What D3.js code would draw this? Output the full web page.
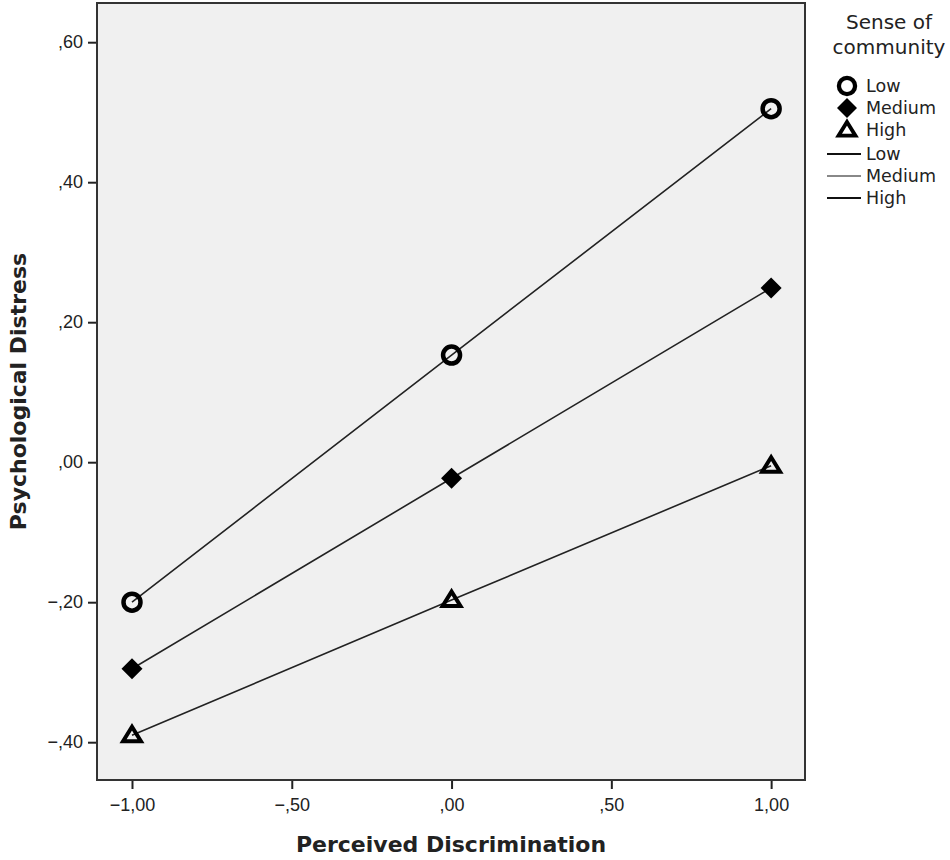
<!DOCTYPE html>
<html>
<head>
<meta charset="utf-8">
<script src="https://cdn.jsdelivr.net/npm/d3@7"></script>
<style>
  body { margin: 0; background: #fff; }
  svg { font-family: "DejaVu Sans", sans-serif; }
</style>
</head>
<body>
<svg></svg>
<script>
// chart data
let xValues = [-1, 0, 1];
let groups = ["Low", "Medium", "High"];
let lowValues = [-0.2, 0.153, 0.505];
let mediumValues = [-0.295, -0.023, 0.249];
let highValues = [-0.39, -0.197, -0.005];
let xTicks = [-1, -0.5, 0, 0.5, 1];
let yTicks = [-0.4, -0.2, 0, 0.2, 0.4, 0.6];

let width = 950;
let height = 860;
let plot = { left: 97, top: 3, right: 805, bottom: 780 };
let svg = d3.select("svg").attr("width", width).attr("height", height);

let xScale = d3.scaleLinear().domain([-1.1095, 1.106]).range([plot.left, plot.right]);
let yScale = d3.scaleLinear().domain([-0.454, 0.656]).range([plot.bottom, plot.top]);

// SPSS style numbers: ",60", "-1,00"
let fmt = (v) => {
  let s = d3.format(".2f")(v);
  s = s.replace(/^(\u2212?)0\./, "$1.").replace(".", ",");
  return s;
};

svg.append("rect")
  .attr("x", plot.left).attr("y", plot.top)
  .attr("width", plot.right - plot.left).attr("height", plot.bottom - plot.top)
  .attr("fill", "#f0f0f0");

let xAxis = d3.axisBottom(xScale).tickValues(xTicks).tickFormat(fmt).tickSize(9).tickSizeOuter(0);
let yAxis = d3.axisLeft(yScale).tickValues(yTicks).tickFormat(fmt).tickSize(9).tickSizeOuter(0);

let gx = svg.append("g").attr("transform", `translate(0, ${plot.bottom})`).call(xAxis);
let gy = svg.append("g").attr("transform", `translate(${plot.left}, 0)`).call(yAxis);
[gx, gy].forEach((g) => {
  g.select(".domain").remove();
  g.selectAll(".tick line").attr("stroke", "#222").attr("stroke-width", 2);
  g.selectAll(".tick text").attr("fill", "#222").style("font-size", "18px");
});
gx.selectAll(".tick text").attr("dy", "1.05em");
gy.selectAll(".tick text").attr("x", -14);

svg.append("rect")
  .attr("x", plot.left).attr("y", plot.top)
  .attr("width", plot.right - plot.left).attr("height", plot.bottom - plot.top)
  .attr("fill", "none").attr("stroke", "#333").attr("stroke-width", 2);

// axis titles
svg.append("text")
  .attr("x", (plot.left + plot.right) / 2).attr("y", 852)
  .attr("text-anchor", "middle")
  .style("font-size", "22px").style("font-weight", "bold").attr("fill", "#222")
  .text("Perceived Discrimination");
svg.append("text")
  .attr("transform", `translate(26, ${(plot.top + plot.bottom) / 2}) rotate(-90)`)
  .attr("text-anchor", "middle")
  .style("font-size", "22px").style("font-weight", "bold").attr("fill", "#222")
  .text("Psychological Distress");

let series = [lowValues, mediumValues, highValues];
let line = d3.line().x((d, i) => xScale(xValues[i])).y((d) => yScale(d));

series.forEach((vals) => {
  svg.append("path")
    .datum(vals)
    .attr("d", line)
    .attr("fill", "none")
    .attr("stroke", "#222")
    .attr("stroke-width", 1.6);
});

let drawMarker = (g, k, x, y, s) => {
  if (k === 0) {
    g.append("circle").attr("cx", x).attr("cy", y).attr("r", 8.5 * s)
      .attr("fill", "none").attr("stroke", "#000").attr("stroke-width", 4.5 * s);
  } else if (k === 1) {
    let r = 10.5 * s;
    g.append("path")
      .attr("d", `M${x},${y - r}L${x + r},${y}L${x},${y + r}L${x - r},${y}Z`)
      .attr("fill", "#000");
  } else {
    let r = 8.5 * s;
    g.append("path")
      .attr("d", `M${x},${y - r}L${x + r * 1.05},${y + r * 0.7}L${x - r * 1.05},${y + r * 0.7}Z`)
      .attr("fill", "none").attr("stroke", "#000").attr("stroke-width", 4 * s)
      .attr("stroke-linejoin", "miter");
  }
};

series.forEach((vals, k) => {
  vals.forEach((v, i) => {
    drawMarker(svg, k, xScale(xValues[i]), yScale(v), 1);
  });
});

// legend
let legend = svg.append("g").style("font-size", "17.5px").attr("fill", "#222");
legend.append("text").attr("x", 889).attr("y", 29).attr("text-anchor", "middle")
  .style("font-size", "20px").text("Sense of");
legend.append("text").attr("x", 889).attr("y", 54).attr("text-anchor", "middle")
  .style("font-size", "20px").text("community");
groups.forEach((name, k) => {
  let y = 86 + k * 22;
  drawMarker(legend, k, 847, y, 0.95);
  legend.append("text").attr("x", 866).attr("y", y + 6).text(name);
});
let legendLineColors = ["#111", "#888", "#111"];
groups.forEach((name, k) => {
  let y = 154 + k * 22;
  legend.append("line").attr("x1", 827).attr("x2", 861).attr("y1", y).attr("y2", y)
    .attr("stroke", legendLineColors[k]).attr("stroke-width", 1.8);
  legend.append("text").attr("x", 866).attr("y", y + 6).text(name);
});
</script>
</body>
</html>
